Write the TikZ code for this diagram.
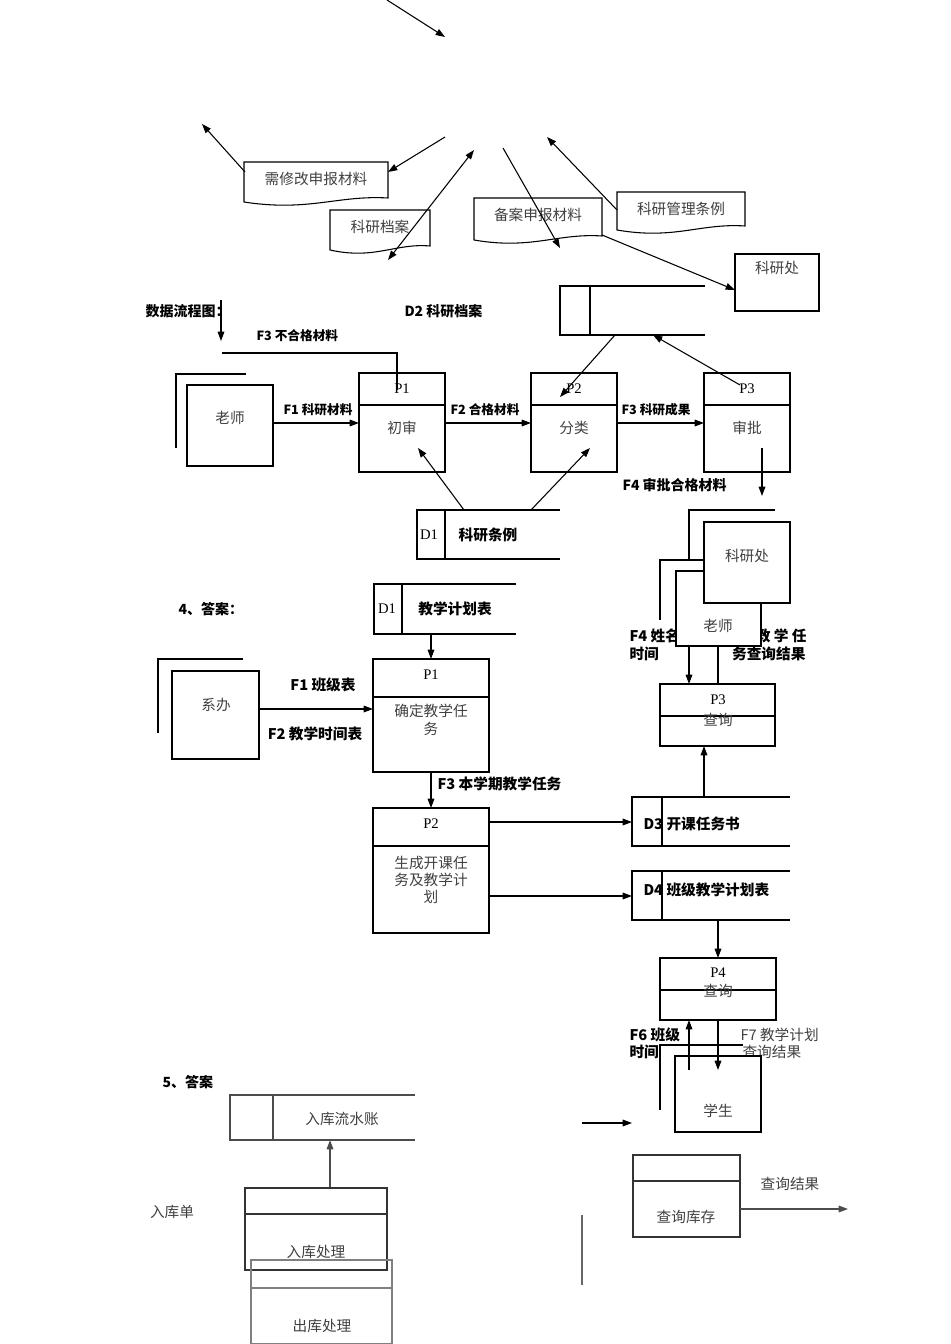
\documentclass[tikz,border=0pt]{standalone}
\usepackage{fontspec}
\setmainfont{Liberation Serif}
\newfontfamily\cjk{Noto Sans CJK SC}
\usetikzlibrary{arrows.meta}
\begin{document}
\begin{tikzpicture}[x=0.75pt,y=-0.75pt,line width=0.8pt,
  arr/.style={-{Triangle[length=7pt,width=5pt]}},
  t/.style={font=\cjk\fontsize{11}{13}\selectfont,inner sep=0pt,text=black!75},
  b/.style={font=\cjk\bfseries\fontsize{10.5}{12.5}\selectfont,inner sep=0pt},
  pn/.style={font=\fontsize{11}{13}\selectfont,inner sep=0pt},
  wb/.style={fill=white,draw}]
\useasboundingbox (0,0) rectangle (950,1344);
% ---------- top part
\draw[arr] (387,0) -- (445,37);
\newcommand\docs[5]{\draw[fill=white] (#1,#2) -- (#3,#2) -- (#3,#4) .. controls ({#3-(#3-#1)*0.35},#4-3) and ({#1+(#3-#1)*0.45},#4+14) .. (#1,#4+4) -- cycle; \node[t] at ({(#1+#3)/2},{#2+17}) {#5};}
\docs{244}{162}{388}{198}{需修改申报材料}
\docs{330}{210}{430}{246}{科研档案}
\docs{474}{198}{602}{236}{备案申报材料}
\docs{617}{192}{745}{226}{科研管理条例}
\draw[arr] (245,172) -- (202,124);
\draw[arr] (445,137) -- (388,172);
\draw[{Triangle[length=7pt,width=5pt]}-{Triangle[length=7pt,width=5pt]}] (474,150) -- (388,260);
\draw[arr] (503,148) -- (560,248);
\draw[arr] (617,210) -- (547,137);
\draw[arr] (602,235) -- (735,290);
\draw (735,254) rectangle (819,311); \node[t] (kyc0) at (777,268) {科研处};
% ---------- 数据流程图
\node[b,anchor=west] at (145,311) {数据流程图：};
\draw[arr] (221,300) -- (221,341);
\node[b,anchor=west] at (404,311) {D2 科研档案};
\draw (705,286) -- (560,286) -- (560,335) -- (705,335); \draw (590,286) -- (590,335);
\node[b,font=\cjk\bfseries\fontsize{9.5}{11}\selectfont,anchor=west] at (256,336) {F3 不合格材料};
\draw (222,353) -- (397,353) -- (397,390);
\draw (246,374) -- (176,374) -- (176,448);
\draw[fill=white] (187,385) rectangle (273,466); \node[t] (ls) at (230,418) {老师};
\foreach \x/\p/\n in {359/P1/初审,531/P2/分类,704/P3/审批}{
  \draw (\x,373) rectangle (\x+86,472); \draw (\x,405) -- (\x+86,405);
  \node[pn] at (\x+43,389) {\p}; \node[t] at (\x+43,428) {\n};}
\draw[arr] (273,423) -- (359,423); \node[b,font=\cjk\bfseries\fontsize{9.5}{11}\selectfont] at (318,410) {F1 科研材料};
\draw[arr] (445,423) -- (531,423); \node[b,font=\cjk\bfseries\fontsize{9.5}{11}\selectfont] at (485,410) {F2 合格材料};
\draw[arr] (617,423) -- (704,423); \node[b,font=\cjk\bfseries\fontsize{9.5}{11}\selectfont] at (656,410) {F3 科研成果};
\draw[arr] (615,335) -- (560,397);
\draw[arr] (740,385) -- (653,335);
\draw (560,510) -- (417,510) -- (417,559) -- (560,559); \draw (445,510) -- (445,559);
\node[pn] at (429,535) {D1}; \node[b,font=\cjk\bfseries\fontsize{11}{13}\selectfont] at (488,535) {科研条例};
\draw[arr] (464,510) -- (418,448);
\draw[arr] (531,510) -- (590,448);
\draw[arr] (762,448) -- (762,496); \node[b,anchor=west,font=\cjk\bfseries\fontsize{10.5}{12.5}\selectfont] at (622,485) {F4 审批合格材料};
% entity cluster
\node[b,anchor=west,font=\cjk\bfseries\fontsize{11}{13}\selectfont] at (629,636) {F4 姓名、};
\node[b,anchor=west,font=\cjk\bfseries\fontsize{11}{13}\selectfont] at (629,654) {时间};
\node[b,anchor=east,font=\cjk\bfseries\fontsize{11}{13}\selectfont] at (807,636) {F5 教 学 任};
\node[b,anchor=east,font=\cjk\bfseries\fontsize{11}{13}\selectfont] at (806,654) {务查询结果};
\draw (775,510) -- (689,510) -- (689,560);
\draw (704,560) -- (660,560) -- (660,620);
\draw[fill=white] (676,571) rectangle (761,646); \node[t] (ls2) at (718,626) {老师};
\draw[fill=white] (704,522) rectangle (790,603); \node[t] (kyc) at (747,556) {科研处};
\draw (660,684) rectangle (775,746); \draw (660,716) -- (775,716);
\node[pn] at (718,700) {P3}; \node[t] at (718,720) {查询};
\draw[arr] (689,646) -- (689,684); \draw (718,646) -- (718,684);
% ---------- 4
\node[b,anchor=west] at (178,609) {4、答案：};
\draw (516,584) -- (374,584) -- (374,634) -- (516,634); \draw (402,584) -- (402,634);
\node[pn] at (387,609) {D1}; \node[b,font=\cjk\bfseries\fontsize{11}{13}\selectfont] at (455,609) {教学计划表};
\draw[arr] (431,634) -- (431,659);
\draw (373,659) rectangle (489,772); \draw (373,697) -- (489,697);
\node[pn] at (431,675) {P1}; \node[t,align=center] at (431,720) {确定教学任\\务};
\draw (243,659) -- (158,659) -- (158,733);
\draw (172,671) rectangle (259,759); \node[t] at (216,705) {系办};
\draw[arr] (259,709) -- (373,709);
\node[b,font=\cjk\bfseries\fontsize{11}{13}\selectfont] at (323,685) {F1 班级表};
\node[b,font=\cjk\bfseries\fontsize{11}{13}\selectfont] at (315,734) {F2 教学时间表};
\draw[arr] (431,772) -- (431,808);
\node[b,anchor=west,font=\cjk\bfseries\fontsize{11}{13}\selectfont] at (437,784) {F3 本学期教学任务};
\draw (373,808) rectangle (489,933); \draw (373,846) -- (489,846);
\node[pn] at (431,824) {P2}; \node[t,align=center] at (431,880) {生成开课任\\务及教学计\\划};
\draw[arr] (489,822) -- (632,822);
\draw[arr] (489,896) -- (632,896);
\draw (790,797) -- (632,797) -- (632,846) -- (790,846); \draw (662,797) -- (662,846);
\node[b,anchor=west,font=\cjk\bfseries\fontsize{11}{13}\selectfont] at (643,824) {D3 开课任务书};
\draw (790,871) -- (632,871) -- (632,920) -- (790,920); \draw (662,871) -- (662,920);
\node[b,anchor=west,font=\cjk\bfseries\fontsize{11}{13}\selectfont] at (643,890) {D4 班级教学计划表};
\draw[arr] (704,797) -- (704,746);
\draw[arr] (718,920) -- (718,958);
\draw (660,958) rectangle (776,1020); \draw (660,990) -- (776,990);
\node[pn] at (718,973) {P4}; \node[t] at (718,991) {查询};
\node[b,anchor=west,font=\cjk\bfseries\fontsize{11}{13}\selectfont] at (629,1035) {F6 班级};
\node[b,anchor=west,font=\cjk\bfseries\fontsize{11}{13}\selectfont] at (629,1052) {时间};
\node[t,anchor=west] at (740,1035) {F7 教学计划};
\node[t,anchor=west] at (742,1052) {查询结果};
\draw (743,1045) -- (660,1045) -- (660,1110);
\draw[fill=white] (675,1056) rectangle (761,1132); \node[t] at (718,1111) {学生};
\draw[arr] (689,1070) -- (689,1020);
\draw[arr] (718,1020) -- (718,1070);
% ---------- 5
\node[b,anchor=west] at (162,1082) {5、答案};
\draw[arr] (582,1123) -- (632,1123);
\draw[black!70] (415,1095) -- (230,1095) -- (230,1140) -- (415,1140); \draw[black!70] (273,1095) -- (273,1140);
\node[t] at (342,1119) {入库流水账};
\draw[arr,black!70] (330,1188) -- (330,1140);
\node[t] at (172,1212) {入库单};
\draw[black!80] (245,1188) rectangle (387,1270); \draw[black!80] (245,1214) -- (387,1214);
\node[t] at (316,1252) {入库处理};
\draw[black!50] (251,1260) rectangle (392,1344); \draw[black!50] (251,1288) -- (392,1288);
\node[t] at (322,1326) {出库处理};
\draw[black!60] (582,1215) -- (582,1285);
\draw[black!80] (633,1155) rectangle (740,1237); \draw[black!80] (633,1181) -- (740,1181);
\node[t] at (686,1217) {查询库存};
\draw[arr,black!70] (740,1209) -- (848,1209);
\node[t] at (790,1184) {查询结果};
\end{tikzpicture}
\end{document}
